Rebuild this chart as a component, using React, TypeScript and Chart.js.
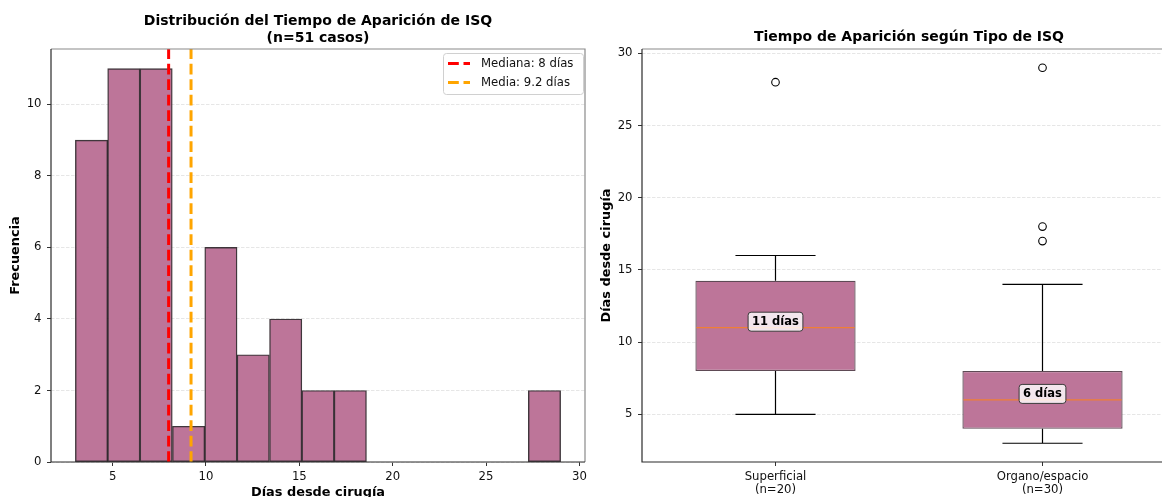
import React, { useEffect, useRef } from 'react';
import { Chart, registerables } from 'chart.js';

Chart.register(...registerables);

const FONT = "'DejaVu Sans', 'Liberation Sans', sans-serif";

// ---------- Histogram data ----------
const HIST_BIN_CENTERS = [3.87, 5.6, 7.33, 9.07, 10.8, 12.53, 14.27, 16.0, 17.73, 19.47, 21.2, 22.93, 24.67, 26.4, 28.13];
const HIST_COUNTS = [9, 11, 11, 1, 6, 3, 4, 2, 2, 0, 0, 0, 0, 0, 2];
const HIST_X_TICKS = [5, 10, 15, 20, 25, 30];
const HIST_Y_TICKS = [0, 2, 4, 6, 8, 10];
const HIST_X_MIN = 1.7;
const HIST_X_MAX = 30.3;
const HIST_Y_MIN = 0;
const HIST_Y_MAX = 11.55;
const MEDIAN_DAYS = 8;
const MEAN_DAYS = 9.2;
const TOTAL_CASES = 51;

// ---------- Boxplot data ----------
const BOX_CATEGORIES = ['Superficial', 'Organo/espacio'];
const BOX_N = [20, 30];
const BOX_Q1 = [8, 4];
const BOX_Q3 = [14.25, 8];
const BOX_MEDIAN = [11, 6];
const BOX_WHISKER_LOW = [5, 3];
const BOX_WHISKER_HIGH = [16, 14];
const BOX_OUTLIERS = [[28], [17, 18, 29]];
const BOX_Y_TICKS = [5, 10, 15, 20, 25, 30];
const BOX_Y_MIN = 1.7;
const BOX_Y_MAX = 30.3;

const BAR_FILL = 'rgb(189,117,153)';
const BAR_EDGE = 'rgba(30,20,26,0.85)';
const BOX_EDGE = '#5e4a55';
const TEXT = '#111';
const GRID = '#e0e0e0';

const CANVAS_W = 600;
const CANVAS_H = 510;

function roundRectPath(ctx: CanvasRenderingContext2D, x: number, y: number, w: number, h: number, r: number) {
  ctx.beginPath();
  ctx.moveTo(x + r, y);
  ctx.lineTo(x + w - r, y);
  ctx.arcTo(x + w, y, x + w, y + r, r);
  ctx.lineTo(x + w, y + h - r);
  ctx.arcTo(x + w, y + h, x + w - r, y + h, r);
  ctx.lineTo(x + r, y + h);
  ctx.arcTo(x, y + h, x, y + h - r, r);
  ctx.lineTo(x, y + r);
  ctx.arcTo(x, y, x + r, y, r);
  ctx.closePath();
}

const framePlugin = {
  id: 'frame',
  afterDatasetsDraw(chart: any) {
    const { ctx, chartArea: a } = chart;
    ctx.save();
    ctx.lineWidth = 1.2;
    ctx.setLineDash([]);
    ctx.strokeStyle = '#8a8a8a';
    ctx.beginPath();
    ctx.moveTo(a.left, a.top);
    ctx.lineTo(a.right, a.top);
    ctx.lineTo(a.right, a.bottom);
    ctx.stroke();
    ctx.strokeStyle = '#2b2b2b';
    ctx.beginPath();
    ctx.moveTo(a.left, a.top);
    ctx.lineTo(a.left, a.bottom);
    ctx.lineTo(a.right, a.bottom);
    ctx.stroke();
    ctx.restore();
  },
};

const histLegendPlugin = {
  id: 'histLegend',
  afterDraw(chart: any) {
    const { ctx, chartArea: a } = chart;
    const items = chart.data.datasets.filter((d: any) => d.type === 'line');
    const w = 140;
    const h = 41;
    const x0 = a.right - 2 - w;
    const y0 = a.top + 4;
    ctx.save();
    roundRectPath(ctx, x0 + 0.5, y0 + 0.5, w, h, 3);
    ctx.fillStyle = 'rgba(255,255,255,0.85)';
    ctx.fill();
    ctx.strokeStyle = '#d0d0d0';
    ctx.lineWidth = 1;
    ctx.stroke();
    items.forEach((d: any, i: number) => {
      const y = y0 + 10.5 + i * 19;
      ctx.strokeStyle = d.borderColor;
      ctx.lineWidth = d.borderWidth;
      ctx.setLineDash(d.borderDash);
      ctx.beginPath();
      ctx.moveTo(x0 + 5, y);
      ctx.lineTo(x0 + 27, y);
      ctx.stroke();
      ctx.setLineDash([]);
      ctx.fillStyle = TEXT;
      ctx.font = `11.7px ${FONT}`;
      ctx.textAlign = 'left';
      ctx.textBaseline = 'middle';
      ctx.fillText(d.label, x0 + 38, y + 0.5);
    });
    ctx.restore();
  },
};

const boxExtrasPlugin = {
  id: 'boxExtras',
  afterDatasetsDraw(chart: any) {
    const { ctx } = chart;
    const xs = chart.scales.x;
    const ys = chart.scales.y;
    const boxMeta = chart.getDatasetMeta(1);
    ctx.save();
    BOX_CATEGORIES.forEach((cat, i) => {
      const cx = xs.getPixelForValue(i);
      const bw = boxMeta.data[i].width;
      const capHalf = bw / 4;
      const yQ1 = ys.getPixelForValue(BOX_Q1[i]);
      const yQ3 = ys.getPixelForValue(BOX_Q3[i]);
      const yLo = ys.getPixelForValue(BOX_WHISKER_LOW[i]);
      const yHi = ys.getPixelForValue(BOX_WHISKER_HIGH[i]);
      const yMed = ys.getPixelForValue(BOX_MEDIAN[i]);
      ctx.strokeStyle = '#000';
      ctx.lineWidth = 1.2;
      ctx.setLineDash([]);
      ctx.beginPath();
      ctx.moveTo(cx, yQ1);
      ctx.lineTo(cx, yLo);
      ctx.moveTo(cx, yQ3);
      ctx.lineTo(cx, yHi);
      ctx.moveTo(cx - capHalf, yLo);
      ctx.lineTo(cx + capHalf, yLo);
      ctx.moveTo(cx - capHalf, yHi);
      ctx.lineTo(cx + capHalf, yHi);
      ctx.stroke();
      // median
      ctx.strokeStyle = '#f07f35';
      ctx.lineWidth = 1.3;
      ctx.beginPath();
      ctx.moveTo(cx - bw / 2 + 1, yMed);
      ctx.lineTo(cx + bw / 2 - 1, yMed);
      ctx.stroke();
      // label
      const text = `${BOX_MEDIAN[i]} días`;
      ctx.font = `bold 11.5px ${FONT}`;
      const tw = ctx.measureText(text).width;
      const ly = yMed - 6;
      const bwLabel = tw + 8;
      const bhLabel = 19;
      roundRectPath(ctx, cx - bwLabel / 2, ly - bhLabel / 2, bwLabel, bhLabel, 3);
      ctx.fillStyle = 'rgba(255,255,255,0.82)';
      ctx.fill();
      ctx.strokeStyle = '#3a3a3a';
      ctx.lineWidth = 1;
      ctx.stroke();
      ctx.fillStyle = '#000';
      ctx.textAlign = 'center';
      ctx.textBaseline = 'middle';
      ctx.fillText(text, cx, ly + 0.5);
    });
    ctx.restore();
  },
};

function fixedTicks(values: number[]) {
  return (scale: any) => {
    scale.ticks = values.map((v) => ({ value: v }));
  };
}

function makeHistConfig(): any {
  return {
    type: 'bar',
    data: {
      datasets: [
        {
          type: 'line',
          label: `Mediana: ${MEDIAN_DAYS} días`,
          data: [
            { x: MEDIAN_DAYS, y: HIST_Y_MIN },
            { x: MEDIAN_DAYS, y: HIST_Y_MAX },
          ],
          borderColor: '#ff0000',
          borderWidth: 3,
          borderDash: [10.8, 4.7],
          pointRadius: 0,
          order: 0,
        },
        {
          type: 'line',
          label: `Media: ${MEAN_DAYS} días`,
          data: [
            { x: MEAN_DAYS, y: HIST_Y_MIN },
            { x: MEAN_DAYS, y: HIST_Y_MAX },
          ],
          borderColor: '#ffa500',
          borderWidth: 3,
          borderDash: [10.8, 4.7],
          pointRadius: 0,
          order: 0,
        },
        {
          type: 'bar',
          label: 'Frecuencia',
          data: HIST_BIN_CENTERS.map((x, i) => ({ x, y: HIST_COUNTS[i] })),
          backgroundColor: BAR_FILL,
          borderColor: BAR_EDGE,
          borderWidth: 1.4,
          borderSkipped: false,
          barPercentage: 1,
          categoryPercentage: 1,
          order: 1,
        },
      ],
    },
    options: {
      responsive: false,
      animation: false,
      layout: { padding: { left: 0, right: 15, top: 0, bottom: 0 } },
      plugins: {
        legend: { display: false },
        tooltip: { enabled: false },
        title: {
          display: true,
          fullSize: false,
          text: ['Distribución del Tiempo de Aparición de ISQ', `(n=${TOTAL_CASES} casos)`],
          color: '#000',
          font: { family: FONT, size: 14, weight: 'bold', lineHeight: 17 / 14 },
          padding: { top: 12.5, bottom: 2.5 },
        },
      },
      scales: {
        x: {
          type: 'linear',
          min: HIST_X_MIN,
          max: HIST_X_MAX,
          offset: false,
          afterBuildTicks: fixedTicks(HIST_X_TICKS),
          afterFit: (s: any) => {
            s.height = CANVAS_H - 462;
          },
          grid: { offset: false, drawOnChartArea: false, tickLength: 4, tickColor: '#333', tickWidth: 1 },
          border: { display: false },
          ticks: { autoSkip: false, maxRotation: 0, padding: 4, color: TEXT, font: { family: FONT, size: 11.7 } },
          title: {
            display: true,
            text: 'Días desde cirugía',
            color: '#000',
            font: { family: FONT, size: 12.9, weight: 'bold' },
            padding: { top: 0, bottom: 9.5 },
          },
        },
        y: {
          type: 'linear',
          min: HIST_Y_MIN,
          max: HIST_Y_MAX,
          afterBuildTicks: fixedTicks(HIST_Y_TICKS),
          afterFit: (s: any) => {
            s.width = 51;
          },
          grid: { color: GRID, lineWidth: 0.8, tickLength: 4, tickColor: '#333', tickWidth: 1 },
          border: { display: false, dash: [3.5, 1.5] },
          ticks: { autoSkip: false, padding: 5.5, color: TEXT, font: { family: FONT, size: 11.7 } },
          title: {
            display: true,
            text: 'Frecuencia',
            color: '#000',
            font: { family: FONT, size: 12.9, weight: 'bold' },
            padding: { top: 8.3, bottom: 0 },
          },
        },
      },
    },
    plugins: [framePlugin, histLegendPlugin],
  };
}

function makeBoxConfig(): any {
  const outlierPoints: { x: string; y: number }[] = [];
  BOX_OUTLIERS.forEach((vals, i) => vals.forEach((v) => outlierPoints.push({ x: BOX_CATEGORIES[i], y: v })));
  return {
    type: 'bar',
    data: {
      labels: BOX_CATEGORIES,
      datasets: [
        {
          type: 'line',
          label: 'Atípicos',
          data: outlierPoints,
          showLine: false,
          pointRadius: 3.8,
          pointBorderWidth: 1.1,
          pointBorderColor: '#000',
          pointBackgroundColor: 'rgba(0,0,0,0)',
          order: 0,
        },
        {
          type: 'bar',
          label: 'Caja',
          data: BOX_CATEGORIES.map((_, i) => [BOX_Q1[i], BOX_Q3[i]]),
          backgroundColor: BAR_FILL,
          borderColor: BOX_EDGE,
          borderWidth: 1.3,
          borderSkipped: false,
          barPercentage: 0.6,
          categoryPercentage: 1,
          order: 1,
        },
      ],
    },
    options: {
      responsive: false,
      animation: false,
      layout: { padding: { left: 0, right: 15, top: 0, bottom: 0 } },
      plugins: {
        legend: { display: false },
        tooltip: { enabled: false },
        title: {
          display: true,
          fullSize: false,
          text: 'Tiempo de Aparición según Tipo de ISQ',
          color: '#000',
          font: { family: FONT, size: 14, weight: 'bold', lineHeight: 17 / 14 },
          padding: { top: 28.5, bottom: 3.5 },
        },
      },
      scales: {
        x: {
          type: 'category',
          offset: true,
          afterFit: (s: any) => {
            s.height = CANVAS_H - 462;
          },
          grid: { offset: false, drawOnChartArea: false, tickLength: 4, tickColor: '#333', tickWidth: 1 },
          border: { display: false },
          ticks: {
            autoSkip: false,
            maxRotation: 0,
            padding: 4,
            color: TEXT,
            font: { family: FONT, size: 11.7, lineHeight: 1.15 },
            callback: (_v: any, i: number) => [BOX_CATEGORIES[i], `(n=${BOX_N[i]})`],
          },
        },
        y: {
          type: 'linear',
          min: BOX_Y_MIN,
          max: BOX_Y_MAX,
          afterBuildTicks: fixedTicks(BOX_Y_TICKS),
          afterFit: (s: any) => {
            s.width = 51;
          },
          grid: { color: GRID, lineWidth: 0.8, tickLength: 4, tickColor: '#333', tickWidth: 1 },
          border: { display: false, dash: [3.5, 1.5] },
          ticks: { autoSkip: false, padding: 5.5, color: TEXT, font: { family: FONT, size: 11.7 } },
          title: {
            display: true,
            text: 'Días desde cirugía',
            color: '#000',
            font: { family: FONT, size: 12.9, weight: 'bold' },
            padding: { top: 8.3, bottom: 0 },
          },
        },
      },
    },
    plugins: [boxExtrasPlugin, framePlugin],
  };
}

export default function App() {
  const histRef = useRef<HTMLCanvasElement | null>(null);
  const boxRef = useRef<HTMLCanvasElement | null>(null);

  useEffect(() => {
    Chart.defaults.font.family = FONT;
    const charts: Chart[] = [];
    if (histRef.current) charts.push(new Chart(histRef.current, makeHistConfig()));
    if (boxRef.current) charts.push(new Chart(boxRef.current, makeBoxConfig()));
    return () => charts.forEach((c) => c.destroy());
  }, []);

  return (
    <div
      style={{
        position: 'fixed',
        left: 0,
        top: 0,
        width: 1162,
        height: 497,
        overflow: 'hidden',
        background: '#fff',
      }}
    >
      <canvas
        ref={histRef}
        width={CANVAS_W}
        height={CANVAS_H}
        style={{ position: 'absolute', left: 0, top: 0, width: CANVAS_W, height: CANVAS_H, display: 'block' }}
      />
      <canvas
        ref={boxRef}
        width={CANVAS_W}
        height={CANVAS_H}
        style={{ position: 'absolute', left: 591, top: 0, width: CANVAS_W, height: CANVAS_H, display: 'block' }}
      />
    </div>
  );
}
